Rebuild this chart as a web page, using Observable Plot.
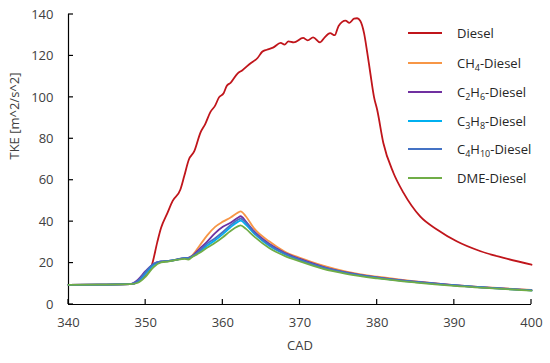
<!DOCTYPE html>
<html>
<head>
<meta charset="utf-8">
<script src="https://cdn.jsdelivr.net/npm/d3@7"></script>
<script src="https://cdn.jsdelivr.net/npm/@observablehq/plot@0.6"></script>
<style>
  body { margin: 0; background: #fff; }
  #wrap { position: relative; width: 550px; height: 363px; font-family: "Open Sans", sans-serif; }
  #legend { position: absolute; left: 408px; top: 0; font-size: 13px; color: #262626; }
  .row { position: absolute; left: 0; height: 20px; white-space: nowrap; }
  .sw { position: absolute; left: 0; top: 9px; width: 34px; height: 0; border-top: 2px solid; }
  .lab { position: absolute; left: 49px; top: 0; line-height: 20px; }
  sub { font-size: 9px; vertical-align: -3px; line-height: 0; }
  #err { position: absolute; left: 100px; top: 200px; color: red; font-size: 11px; }
</style>
</head>
<body>
<div id="wrap"><div id="legend"></div><div id="err"></div></div>
<script>
// ---- data ----
const seriesNames = ["Diesel", "CH4-Diesel", "C2H6-Diesel", "C3H8-Diesel", "C4H10-Diesel", "DME-Diesel"];
const legendLabels = ["Diesel", "CH<sub>4</sub>-Diesel", "C<sub>2</sub>H<sub>6</sub>-Diesel", "C<sub>3</sub>H<sub>8</sub>-Diesel", "C<sub>4</sub>H<sub>10</sub>-Diesel", "DME-Diesel"];
const seriesColors = ["#C0151B", "#F79646", "#7030A0", "#00B0F0", "#4472C4", "#70AD47"];

const xTicks = [340, 350, 360, 370, 380, 390, 400];
const yTicks = [0, 20, 40, 60, 80, 100, 120, 140];
const xTitle = "CAD";
const yTitle = "TKE [m^2/s^2]";

const cadDiesel = [340, 344, 348, 349, 350, 350.8, 351.5, 352, 352.8, 353.5, 354.5, 355, 355.6, 356.3, 357.1, 357.7, 358.4, 359, 359.5, 360.1, 360.5, 361, 361.9, 362.5, 363.6, 364.5, 365.1, 365.7, 366.5, 367.5, 368, 368.5, 369.2, 370.4, 371, 371.7, 372.6, 373.2, 373.9, 374.5, 375, 375.9, 376.4, 377, 377.4, 377.8, 378.3, 378.7, 379.1, 379.6, 380, 380.8, 382.1, 383.4, 385.6, 387.8, 390.3, 393.4, 396.4, 400];
const tkeDiesel = [9.5, 9.6, 9.8, 11, 14.5, 19, 30, 37, 44, 50, 55.5, 62, 70, 74, 83, 87, 93, 96, 100, 102, 105.5, 107, 111.5, 113, 116.5, 119, 122, 123, 124, 126.3, 125.5, 127, 126.5, 128.7, 127.5, 129, 126.5, 129, 131, 130, 134.5, 137, 136, 138, 138.2, 137, 131, 122, 112, 100, 94, 78, 63.6, 54, 42.4, 36.1, 30.5, 25.7, 22.5, 19.2];

const cadGas = [340, 344, 348, 349, 350, 351, 352, 353, 354, 355, 355.5, 356, 357, 358, 359, 360, 361, 362, 362.3, 363, 364, 366, 368, 370, 373, 376, 380, 385, 390, 395, 400];
const tkeCH4 = [9.5, 9.6, 9.8, 11.0, 15.0, 19.0, 20.6, 21.0, 21.6, 22.3, 22.5, 23.6, 28.5, 33.5, 37.5, 40.0, 42.0, 44.5, 45.0, 42.5, 37.0, 30.5, 25.6, 22.5, 18.8, 15.9, 13.4, 11.2, 9.4, 8.1, 7.0];
const tkeC2H6 = [9.5, 9.6, 9.8, 12.0, 16.2, 19.6, 20.8, 21.1, 21.7, 22.4, 22.5, 23.4, 27.0, 30.5, 34.5, 37.5, 39.5, 42.0, 42.6, 40.0, 35.5, 29.3, 25.0, 22.0, 18.2, 15.5, 13.1, 11.0, 9.3, 8.0, 6.9];
const tkeC3H8 = [9.5, 9.6, 9.8, 11.0, 15.0, 19.0, 20.6, 21.0, 21.6, 22.3, 22.3, 23.1, 25.5, 28.5, 31.0, 34.0, 37.3, 40.0, 40.5, 38.5, 34.5, 28.3, 24.3, 21.4, 17.7, 15.2, 12.9, 10.8, 9.2, 7.9, 6.8];
const tkeC4H10 = [9.5, 9.6, 9.8, 11.5, 15.8, 19.5, 20.8, 21.1, 21.7, 22.4, 22.4, 23.2, 26.0, 29.5, 32.0, 35.0, 38.3, 41.0, 41.5, 39.5, 35.0, 28.8, 24.6, 21.6, 17.9, 15.3, 13.0, 10.9, 9.2, 7.9, 6.8];
const tkeDME = [9.5, 9.6, 9.8, 10.5, 13.5, 18.0, 20.3, 20.8, 21.5, 22.0, 21.7, 22.8, 25.0, 27.5, 29.8, 32.5, 35.5, 37.8, 38.2, 36.5, 33.0, 27.3, 23.5, 20.8, 17.2, 14.8, 12.6, 10.6, 9.0, 7.8, 6.7];

// ---- build table ----
const rows = [];
cadDiesel.forEach((c, i) => rows.push({series: seriesNames[0], cad: c, tke: tkeDiesel[i]}));
[tkeCH4, tkeC2H6, tkeC3H8, tkeC4H10, tkeDME].forEach((arr, k) => {
  cadGas.forEach((c, i) => rows.push({series: seriesNames[k + 1], cad: c, tke: arr[i]}));
});

const axisColor = "#404040";
const chart = Plot.plot({
  width: 550,
  height: 363,
  marginLeft: 68,
  marginRight: 19,
  marginTop: 14,
  marginBottom: 59,
  style: {fontFamily: "Open Sans, sans-serif", fontSize: "13px", color: axisColor, background: "#fff"},
  x: {domain: [340, 400]},
  y: {domain: [0, 140]},
  color: {domain: seriesNames, range: seriesColors},
  marks: [
    Plot.axisX({ticks: xTicks, tickSize: 0, tickPadding: 13, label: null, fill: axisColor}),
    Plot.axisY({ticks: yTicks, tickSize: 0, tickPadding: 15, label: null, fill: axisColor}),
    Plot.text([xTitle], {frameAnchor: "bottom", dy: 45, fill: axisColor, fontSize: 13}),
    Plot.text([yTitle], {frameAnchor: "left", dx: -54, rotate: -90, fill: axisColor, fontSize: 13}),
    Plot.ruleY([0], {stroke: "#000", strokeWidth: 1.2}),
    Plot.ruleX([340], {stroke: "#000", strokeWidth: 1.2}),
    Plot.line(rows, {x: "cad", y: "tke", z: "series", stroke: "series", strokeWidth: 1.8, curve: "monotone-x"})
  ]
});
document.getElementById("wrap").prepend(chart);

// inward tick marks positioned by the plot's own scales
try {
  const sx = chart.scale("x"), sy = chart.scale("y");
  const svgEl = chart.nodeName.toLowerCase() === "svg" ? chart : chart.querySelector("svg");
  const y0 = sy.apply(0), x0 = sx.apply(340);
  const ns = "http://www.w3.org/2000/svg";
  const g = document.createElementNS(ns, "g");
  g.setAttribute("stroke", "#000");
  g.setAttribute("stroke-width", "1.2");
  const addLine = (a, b, c, d) => {
    const l = document.createElementNS(ns, "line");
    l.setAttribute("x1", a); l.setAttribute("y1", b);
    l.setAttribute("x2", c); l.setAttribute("y2", d);
    g.appendChild(l);
  };
  xTicks.forEach(t => { const px = sx.apply(t); addLine(px, y0, px, y0 - 5); });
  yTicks.forEach(t => { const py = sy.apply(t); addLine(x0, py, x0 + 5, py); });
  svgEl.appendChild(g);
} catch (e) {
  document.getElementById("err").textContent = String(e);
}

// legend
const leg = document.getElementById("legend");
const rowTops = [33, 63, 92, 121, 149, 178];
seriesNames.forEach((s, i) => {
  const r = document.createElement("div");
  r.className = "row";
  r.style.top = (rowTops[i] - 10) + "px";
  r.innerHTML = `<div class="sw" style="border-color:${seriesColors[i]}"></div><div class="lab">${legendLabels[i]}</div>`;
  leg.appendChild(r);
});
</script>
</body>
</html>
